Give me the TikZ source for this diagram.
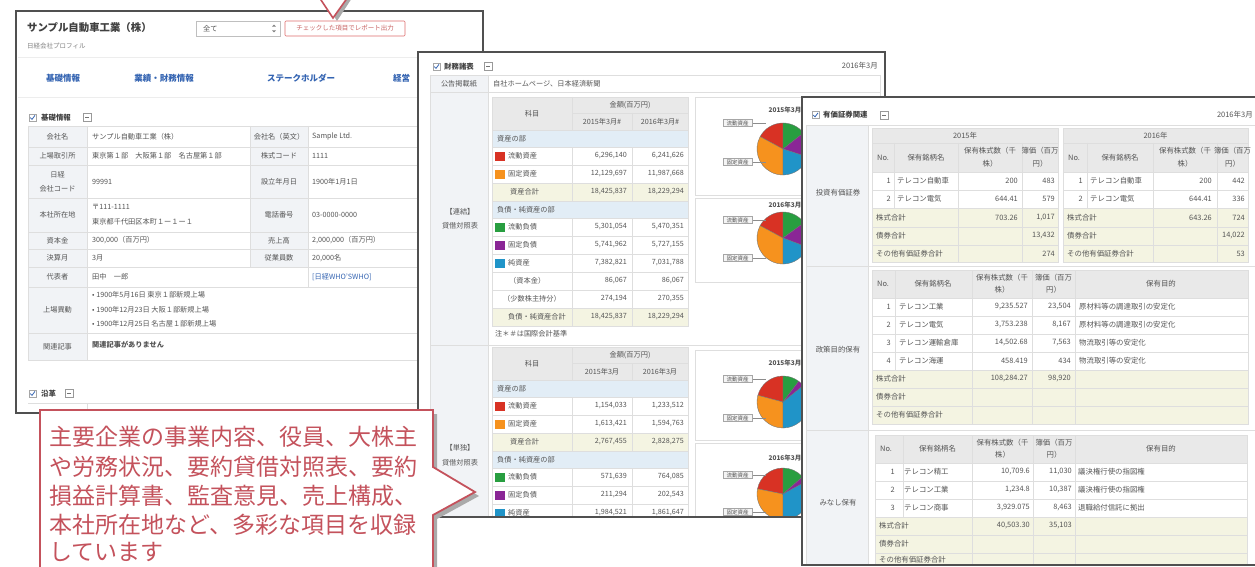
\documentclass[tikz,border=0pt]{standalone}
\usepackage{fontspec}
\setmainfont{Noto Sans CJK JP}
\definecolor{winb}{RGB}{80,80,80}
\definecolor{txt}{RGB}{85,85,85}
\definecolor{gridc}{RGB}{222,222,222}
\definecolor{labbg}{RGB}{241,243,246}
\definecolor{hdrbg}{RGB}{233,233,233}
\definecolor{secbg}{RGB}{226,237,246}
\definecolor{totbg}{RGB}{244,244,226}
\definecolor{pred}{RGB}{216,50,36}
\definecolor{porange}{RGB}{246,146,30}
\definecolor{pgreen}{RGB}{40,158,64}
\definecolor{ppurple}{RGB}{138,38,150}
\definecolor{pblue}{RGB}{32,148,200}
\definecolor{cred}{RGB}{196,82,92}
\definecolor{navblue}{RGB}{52,100,178}
\definecolor{btnred}{RGB}{222,110,110}
\definecolor{shadowc}{RGB}{170,170,170}
\newcommand\myL[3]{\node[tt,anchor=west] at (#1,#2) {#3};}
\newcommand\myR[3]{\node[tt,anchor=east] at (#1,#2) {#3};}
\newcommand\myC[3]{\node[tt] at (#1,#2) {#3};}
\newcommand\mychk[2]{\draw[black!35,fill=white,line width=.4] (#1,#2) rectangle ++(7,7);
  \draw[navblue,line width=.8] (#1+1.3,#2+3.6) -- (#1+3,#2+5.4) -- (#1+6,#2+1.4);}
\newcommand\mymin[2]{\draw[black!40,fill=white,line width=.4] (#1,#2) rectangle ++(8,8);
  \draw[black!55,line width=.5] (#1+2,#2+4) -- (#1+6,#2+4);}
\newcommand\mypie[5]{%
\begin{scope}[shift={(#1,#2)}]
 \filldraw[fill=pred,draw=black!55,line width=.35] (0,0) -- (-90:26) arc[start angle=-90,end angle=#3,radius=26] -- cycle;
 \filldraw[fill=porange,draw=black!55,line width=.35] (0,0) -- (#3:26) arc[start angle=#3,end angle=-270,radius=26] -- cycle;
 \filldraw[fill=pgreen,draw=black!55,line width=.35] (0,0) -- (-90:26) arc[start angle=-90,end angle=#4,radius=26] -- cycle;
 \filldraw[fill=ppurple,draw=black!55,line width=.35] (0,0) -- (#4:26) arc[start angle=#4,end angle=#5,radius=26] -- cycle;
 \filldraw[fill=pblue,draw=black!55,line width=.35] (0,0) -- (#5:26) arc[start angle=#5,end angle=90,radius=26] -- cycle;
\end{scope}}
\newcommand\pielab[2]{\draw[black!45,line width=.4] (752,#1) -- (766,#1);
  \node[draw=black!35,fill=black!4,inner sep=1pt,font=\fontsize{5.5}{6}\selectfont,text=txt,minimum width=29pt] at (737.5,#1) {#2};}
\newcommand\fintable[2]{%
\begin{scope}[yshift=-#1pt]
\fill[hdrbg] (492,97) rectangle (688,130);
\fill[white] (492,130) rectangle (688,326);
\fill[secbg] (492,130) rectangle (688,147);
\fill[secbg] (492,201) rectangle (688,218);
\fill[totbg] (492,183) rectangle (688,201);
\fill[totbg] (492,308) rectangle (688,326);
\foreach \yy in {130,147,165,183,201,218,236,254,272,290,308,326} {\draw[gridc] (492,\yy) -- (688,\yy);}
\draw[gridc] (572,97) -- (572,130) (572,113) -- (688,113) (632,113) -- (632,130);
\draw[gridc] (572,147) -- (572,201) (632,147) -- (632,201) (572,218) -- (572,326) (632,218) -- (632,326);
\draw[gridc] (492,97) rectangle (688,326);
\fill[pred] (495,151.5) rectangle ++(10,9);
\fill[porange] (495,169.5) rectangle ++(10,9);
\fill[pgreen] (495,222.5) rectangle ++(10,9);
\fill[ppurple] (495,240.5) rectangle ++(10,9);
\fill[pblue] (495,258.5) rectangle ++(10,9);
\myC{532}{113.5}{科目}
\myC{630}{105}{金額(百万円)}
\myC{602}{121.5}{2015年3月#2}
\myC{660}{121.5}{2016年3月#2}
\myL{497}{138.5}{資産の部}
\myL{508}{156}{流動資産}
\myL{508}{174}{固定資産}
\myL{510}{192}{資産合計}
\myL{497}{209.5}{負債・純資産の部}
\myL{508}{227}{流動負債}
\myL{508}{245}{固定負債}
\myL{508}{263}{純資産}
\end{scope}}
\begin{document}
\begin{tikzpicture}[x=1pt,y=-1pt,
  tt/.style={font=\fontsize{7.2}{8}\selectfont,text=txt,inner sep=0pt},
  navs/.style={font=\bfseries\fontsize{8.5}{9}\selectfont,text=navblue,inner sep=0pt},
  bold/.style={font=\bfseries\fontsize{7.4}{8}\selectfont,text=black!75,inner sep=0pt,anchor=west},
  win/.style={draw=winb,line width=2.6pt},
  ctext/.style={anchor=west,inner sep=0pt,font=\fontsize{23}{26}\selectfont,text=cred}]
\useasboundingbox (0,0) rectangle (1255,567);
\clip (0,0) rectangle (1255,567);
\fill[white] (0,0) rectangle (1255,567);

%================ window 1 ================
\fill[white] (16,11) rectangle (483,413);
\begin{scope}
\clip (16,11) rectangle (483,413);
\node[anchor=west,inner sep=0pt,font=\bfseries\fontsize{10.4}{12}\selectfont,text=black!75] (title) at (27,28) {サンプル自動車工業（株）};
\node[anchor=west,inner sep=0pt,font=\fontsize{6.5}{7}\selectfont,text=black!50] (sub) at (27,46) {日経会社プロフィル};
\draw[black!25,fill=white,line width=.5] (196,21) rectangle (280,36);
\node[tt,anchor=west] (sel) at (203,28.5) {全て};
\fill[black!50] (272,26.6) -- (274,24.6) -- (276,26.6) -- cycle;
\fill[black!50] (272,30.4) -- (274,32.4) -- (276,30.4) -- cycle;
\draw[btnred,fill=white,line width=.6,rounded corners=1] (285,21) rectangle (405,36);
\node[tt,text=btnred!90!black,font=\fontsize{6.5}{7}\selectfont] (btn) at (345,28.5) {チェックした項目でレポート出力};
\draw[black!7,line width=1] (18,58) -- (481,58);
\draw[black!7,line width=1] (18,98) -- (481,98);
\node[navs] (n1) at (63,78) {基礎情報};
\node[navs] (n2) at (164,78) {業績・財務情報};
\node[navs] (n3) at (301,78) {ステークホルダー};
\node[navs,anchor=west] (n4) at (393,78) {経営};
\mychk{29}{114}
\node[bold] (s1) at (41,117.5) {基礎情報};
\mymin{83}{113.5}
% table
\fill[labbg] (28,126) rectangle (87,360);
\fill[labbg] (250,126) rectangle (308,267);
\foreach \yy in {126,147,165,198,232,249,267,287,333,360} {\draw[gridc] (28,\yy) -- (420,\yy);}
\draw[gridc] (28,126) -- (28,360) (87,126) -- (87,360) (250,126) -- (250,267) (308,126) -- (308,287);
\myC{57.5}{136.5}{会社名}
\myL{92}{136.5}{サンプル自動車工業（株）}
\myC{279}{136.5}{会社名（英文）}
\myL{312}{136.5}{Sample Ltd.}
\myC{57.5}{156}{上場取引所}
\myL{92}{156}{東京第１部　大阪第１部　名古屋第１部}
\myC{279}{156}{株式コード}
\myL{312}{156}{1111}
\myC{57.5}{175}{日経}
\myC{57.5}{189}{会社コード}
\myL{92}{181.5}{99991}
\myC{279}{181.5}{設立年月日}
\myL{312}{181.5}{1900年1月1日}
\myC{57.5}{215}{本社所在地}
\myL{92}{207}{〒111-1111}
\myL{92}{222}{東京都千代田区本町１ー１ー１}
\myC{279}{215}{電話番号}
\myL{312}{215}{03-0000-0000}
\myC{57.5}{240.5}{資本金}
\myL{92}{240.5}{300,000（百万円）}
\myC{279}{240.5}{売上高}
\myL{312}{240.5}{2,000,000（百万円）}
\myC{57.5}{258}{決算月}
\myL{92}{258}{3月}
\myC{279}{258}{従業員数}
\myL{312}{258}{20,000名}
\myC{57.5}{277}{代表者}
\myL{92}{277}{田中　一郎}
\node[tt,anchor=west,text=navblue] at (312,277) {[日経WHO'SWHO]};
\myC{57.5}{310}{上場異動}
\myL{92}{295}{• 1900年5月16日 東京１部新規上場}
\myL{92}{310}{• 1900年12月23日 大阪１部新規上場}
\myL{92}{324}{• 1900年12月25日 名古屋１部新規上場}
\myC{57.5}{346.5}{関連記事}
\node[tt,anchor=west,font=\bfseries\fontsize{7.2}{8}\selectfont] at (92,345) {関連記事がありません};
\mychk{29}{390}
\node[bold] (s2) at (41,393.5) {沿革};
\mymin{65}{389.5}
\draw[gridc] (28,403) -- (420,403) (87,403) -- (87,413);
\end{scope}
\draw[win] (16,11) rectangle (483,413);

%================ window 2 ================
\fill[white] (418,52) rectangle (885,517);
\begin{scope}
\clip (418,52) rectangle (885,517);
\mychk{433}{63}
\node[bold] (s3) at (444,66.5) {財務諸表};
\mymin{484}{62.5}
\node[tt,anchor=east,font=\fontsize{7.5}{8}\selectfont] at (878,66) {2016年3月};
\fill[labbg] (430,75) rectangle (488,530);
\foreach \yy in {75,92,345} {\draw[gridc] (430,\yy) -- (880,\yy);}
\draw[gridc] (430,75) -- (430,530) (488,75) -- (488,530) (880,75) -- (880,530);
\myC{459}{83.5}{公告掲載紙}
\myL{493}{83.5}{自社ホームページ、日本経済新聞}
\myC{460}{212}{【連結】}
\myC{460}{226}{貸借対照表}
\myC{460}{448}{【単独】}
\myC{460}{463}{貸借対照表}
\fintable{0}{\#}
\fintable{250}{}
\myL{509}{281}{（資本金）}
\myL{503}{299}{（少数株主持分）}
\myL{508}{317}{負債・純資産合計}
\myR{627}{156}{6,296,140}\myR{684}{156}{6,241,626}
\myR{627}{174}{12,129,697}\myR{684}{174}{11,987,668}
\myR{627}{192}{18,425,837}\myR{684}{192}{18,229,294}
\myR{627}{227}{5,301,054}\myR{684}{227}{5,470,351}
\myR{627}{245}{5,741,962}\myR{684}{245}{5,727,155}
\myR{627}{263}{7,382,821}\myR{684}{263}{7,031,788}
\myR{627}{281}{86,067}\myR{684}{281}{86,067}
\myR{627}{299}{274,194}\myR{684}{299}{270,355}
\myR{627}{317}{18,425,837}\myR{684}{317}{18,229,294}
\myL{495}{334}{注＊＃は国際会計基準}
\myR{627}{406}{1,154,033}\myR{684}{406}{1,233,512}
\myR{627}{424}{1,613,421}\myR{684}{424}{1,594,763}
\myR{627}{442}{2,767,455}\myR{684}{442}{2,828,275}
\myR{627}{477}{571,639}\myR{684}{477}{764,085}
\myR{627}{495}{211,294}\myR{684}{495}{202,543}
\myR{627}{513}{1,984,521}\myR{684}{513}{1,861,647}
% pie panels
\draw[gridc] (695,97) rectangle (880,195);
\draw[gridc] (695,198) rectangle (880,282);
\draw[gridc] (695,350) rectangle (880,440);
\draw[gridc] (695,443) rectangle (880,540);
\node[tt,font=\bfseries\fontsize{6.5}{7}\selectfont] at (785,110) {2015年3月};
\node[tt,font=\bfseries\fontsize{6.5}{7}\selectfont] at (785,205) {2016年3月};
\node[tt,font=\bfseries\fontsize{6.5}{7}\selectfont] at (785,363) {2015年3月};
\node[tt,font=\bfseries\fontsize{6.5}{7}\selectfont] at (785,458) {2016年3月};
\mypie{783}{149}{-151.51}{-38.22}{17.87}
\mypie{783}{238}{-151.63}{-35.98}{20.57}
\mypie{783}{402}{-165.06}{-52.82}{-39.08}
\mypie{783}{494}{-168.5}{-41.37}{-28.48}
\pielab{123}{流動資産}\pielab{162}{固定資産}
\pielab{220}{流動資産}\pielab{258}{固定資産}
\pielab{379}{流動資産}\pielab{418}{固定資産}
\pielab{475}{流動資産}\pielab{512}{固定資産}
\end{scope}
\draw[win] (418,52) rectangle (885,517);

%================ window 3 ================
\fill[white] (802,97) rectangle (1270,565);
\begin{scope}[tt/.style={font=\fontsize{7.4}{8}\selectfont,text=txt,inner sep=0pt}]
\clip (802,97) rectangle (1270,565);
\mychk{812}{111.5}
\node[bold] (s4) at (823,115) {有価証券関連};
\mymin{880}{111}
\node[tt,anchor=east,font=\fontsize{7.5}{8}\selectfont] at (1253,115) {2016年3月};
\fill[labbg] (806,125) rectangle (868,570);
\foreach \yy in {125,266,430} {\draw[gridc] (806,\yy) -- (1260,\yy);}
\draw[gridc] (806,125) -- (806,570) (868,125) -- (868,570);
\myC{838}{193}{投資有価証券}
\myC{838}{350}{政策目的保有}
\myC{838}{503}{みなし保有}
% 2015 and 2016 tables
\foreach \xa/\xb/\xc/\xd/\xe in {872/894/958/1022/1058, 1063/1087/1153/1217/1248} {
  \fill[hdrbg] (\xa,128) rectangle (\xe,172);
  \fill[white] (\xa,172) rectangle (\xe,208);
  \fill[totbg] (\xa,208) rectangle (\xe,262);
  \foreach \yy in {143,172,190,208,227,245} {\draw[gridc] (\xa,\yy) -- (\xe,\yy);}
  \draw[gridc] (\xb,143) -- (\xb,208) (\xc,143) -- (\xc,262) (\xd,143) -- (\xd,262);
  \draw[gridc] (\xa,128) rectangle (\xe,262);
}
\myC{965}{135.5}{2015年}
\myL{877}{157.5}{No.}
\myC{926}{157.5}{保有銘柄名}
\myC{990}{151}{保有株式数（千}
\myC{990}{164}{株）}
\myC{1040}{151}{簿価（百万}
\myC{1040}{164}{円）}
\myR{891}{181}{1}\myL{897}{181}{テレコン自動車}\myR{1018}{181}{200}\myR{1055}{181}{483}
\myR{891}{199}{2}\myL{897}{199}{テレコン電気}\myR{1018}{199}{644.41}\myR{1055}{199}{579}
\myL{876}{217.5}{株式合計}\myR{1018}{217.5}{703.26}\myR{1055}{217.5}{1,017}
\myL{876}{236}{債券合計}\myR{1055}{236}{13,432}
\myL{876}{253.5}{その他有価証券合計}\myR{1055}{253.5}{274}
\myC{1155.5}{135.5}{2016年}
\myL{1068}{157.5}{No.}
\myC{1120}{157.5}{保有銘柄名}
\myC{1185}{151}{保有株式数（千}
\myC{1185}{164}{株）}
\myC{1232.5}{151}{簿価（百万}
\myC{1232.5}{164}{円）}
\myR{1083}{181}{1}\myL{1090}{181}{テレコン自動車}\myR{1212}{181}{200}\myR{1245}{181}{442}
\myR{1083}{199}{2}\myL{1090}{199}{テレコン電気}\myR{1212}{199}{644.41}\myR{1245}{199}{336}
\myL{1067}{217.5}{株式合計}\myR{1212}{217.5}{643.26}\myR{1245}{217.5}{724}
\myL{1067}{236}{債券合計}\myR{1245}{236}{14,022}
\myL{1067}{253.5}{その他有価証券合計}\myR{1245}{253.5}{53}
% section 2 table
\fill[hdrbg] (872,270) rectangle (1248,298);
\fill[white] (872,298) rectangle (1248,370);
\fill[totbg] (872,370) rectangle (1248,424);
\foreach \yy in {298,316,334,352,370,388,406} {\draw[gridc] (872,\yy) -- (1248,\yy);}
\draw[gridc] (895,270) -- (895,370) (972,270) -- (972,424) (1032,270) -- (1032,424) (1075,270) -- (1075,424);
\draw[gridc] (872,270) rectangle (1248,424);
\myL{877}{284}{No.}
\myC{933}{284}{保有銘柄名}
\myC{1002}{278}{保有株式数（千}
\myC{1002}{290}{株）}
\myC{1053.5}{278}{簿価（百万}
\myC{1053.5}{290}{円）}
\myC{1161}{284}{保有目的}
\myR{891}{307}{1}\myL{899}{307}{テレコン工業}\myR{1028}{307}{9,235.527}\myR{1071}{307}{23,504}\myL{1079}{307}{原材料等の調達取引の安定化}
\myR{891}{325}{2}\myL{899}{325}{テレコン電気}\myR{1028}{325}{3,753.238}\myR{1071}{325}{8,167}\myL{1079}{325}{原材料等の調達取引の安定化}
\myR{891}{343}{3}\myL{899}{343}{テレコン運輸倉庫}\myR{1028}{343}{14,502.68}\myR{1071}{343}{7,563}\myL{1079}{343}{物流取引等の安定化}
\myR{891}{361}{4}\myL{899}{361}{テレコン海運}\myR{1028}{361}{458.419}\myR{1071}{361}{434}\myL{1079}{361}{物流取引等の安定化}
\myL{876}{379}{株式合計}\myR{1028}{379}{108,284.27}\myR{1071}{379}{98,920}
\myL{876}{397}{債券合計}
\myL{876}{415}{その他有価証券合計}
% section 3 table
\fill[hdrbg] (875,435) rectangle (1247,463);
\fill[white] (875,463) rectangle (1247,517);
\fill[totbg] (875,517) rectangle (1247,571);
\foreach \yy in {463,481,499,517,535,553} {\draw[gridc] (875,\yy) -- (1247,\yy);}
\draw[gridc] (903,435) -- (903,517) (972,435) -- (972,571) (1033,435) -- (1033,571) (1075,435) -- (1075,571);
\draw[gridc] (875,435) rectangle (1247,571);
\myL{880}{449}{No.}
\myC{937.5}{449}{保有銘柄名}
\myC{1002.5}{443}{保有株式数（千}
\myC{1002.5}{455}{株）}
\myC{1054}{443}{簿価（百万}
\myC{1054}{455}{円）}
\myC{1161}{449}{保有目的}
\myR{895}{472}{1}\myL{904}{472}{テレコン精工}\myR{1030}{472}{10,709.6}\myR{1072}{472}{11,030}\myL{1078}{472}{議決権行使の指図権}
\myR{895}{490}{2}\myL{904}{490}{テレコン工業}\myR{1030}{490}{1,234.8}\myR{1072}{490}{10,387}\myL{1078}{490}{議決権行使の指図権}
\myR{895}{508}{3}\myL{904}{508}{テレコン商事}\myR{1030}{508}{3,929.075}\myR{1072}{508}{8,463}\myL{1078}{508}{退職給付信託に拠出}
\myL{879}{526}{株式合計}\myR{1030}{526}{40,503.30}\myR{1072}{526}{35,103}
\myL{879}{544}{債券合計}
\myL{879}{560}{その他有価証券合計}
\end{scope}
\draw[win] (802,97) rectangle (1270,565);

%================ callout ================
\fill[shadowc] (44,414) -- (437,414) -- (437,471) -- (479,496) -- (437,519) -- (437,600) -- (44,600) -- cycle;
\filldraw[fill=white,draw=cred,line width=1.8pt] (40,410) -- (433,410) -- (433,467) -- (475,492) -- (433,515) -- (433,600) -- (40,600) -- cycle;
\node[ctext] (c1) at (49,437) {主要企業の事業内容、役員、大株主};
\node[ctext] (c2) at (49,466.5) {や労務状況、要約貸借対照表、要約};
\node[ctext] (c3) at (49,496) {損益計算書、監査意見、売上構成、};
\node[ctext] (c4) at (49,525) {本社所在地など、多彩な項目を収録};
\node[ctext] (c5) at (49,552) {しています};

% top pointer
\fill[shadowc] (323,-2) -- (337,21) -- (352,-2) -- cycle;
\filldraw[fill=white,draw=cred,line width=1.6pt] (319,-3) -- (333,18) -- (348,-3);
\end{tikzpicture}
\end{document}
